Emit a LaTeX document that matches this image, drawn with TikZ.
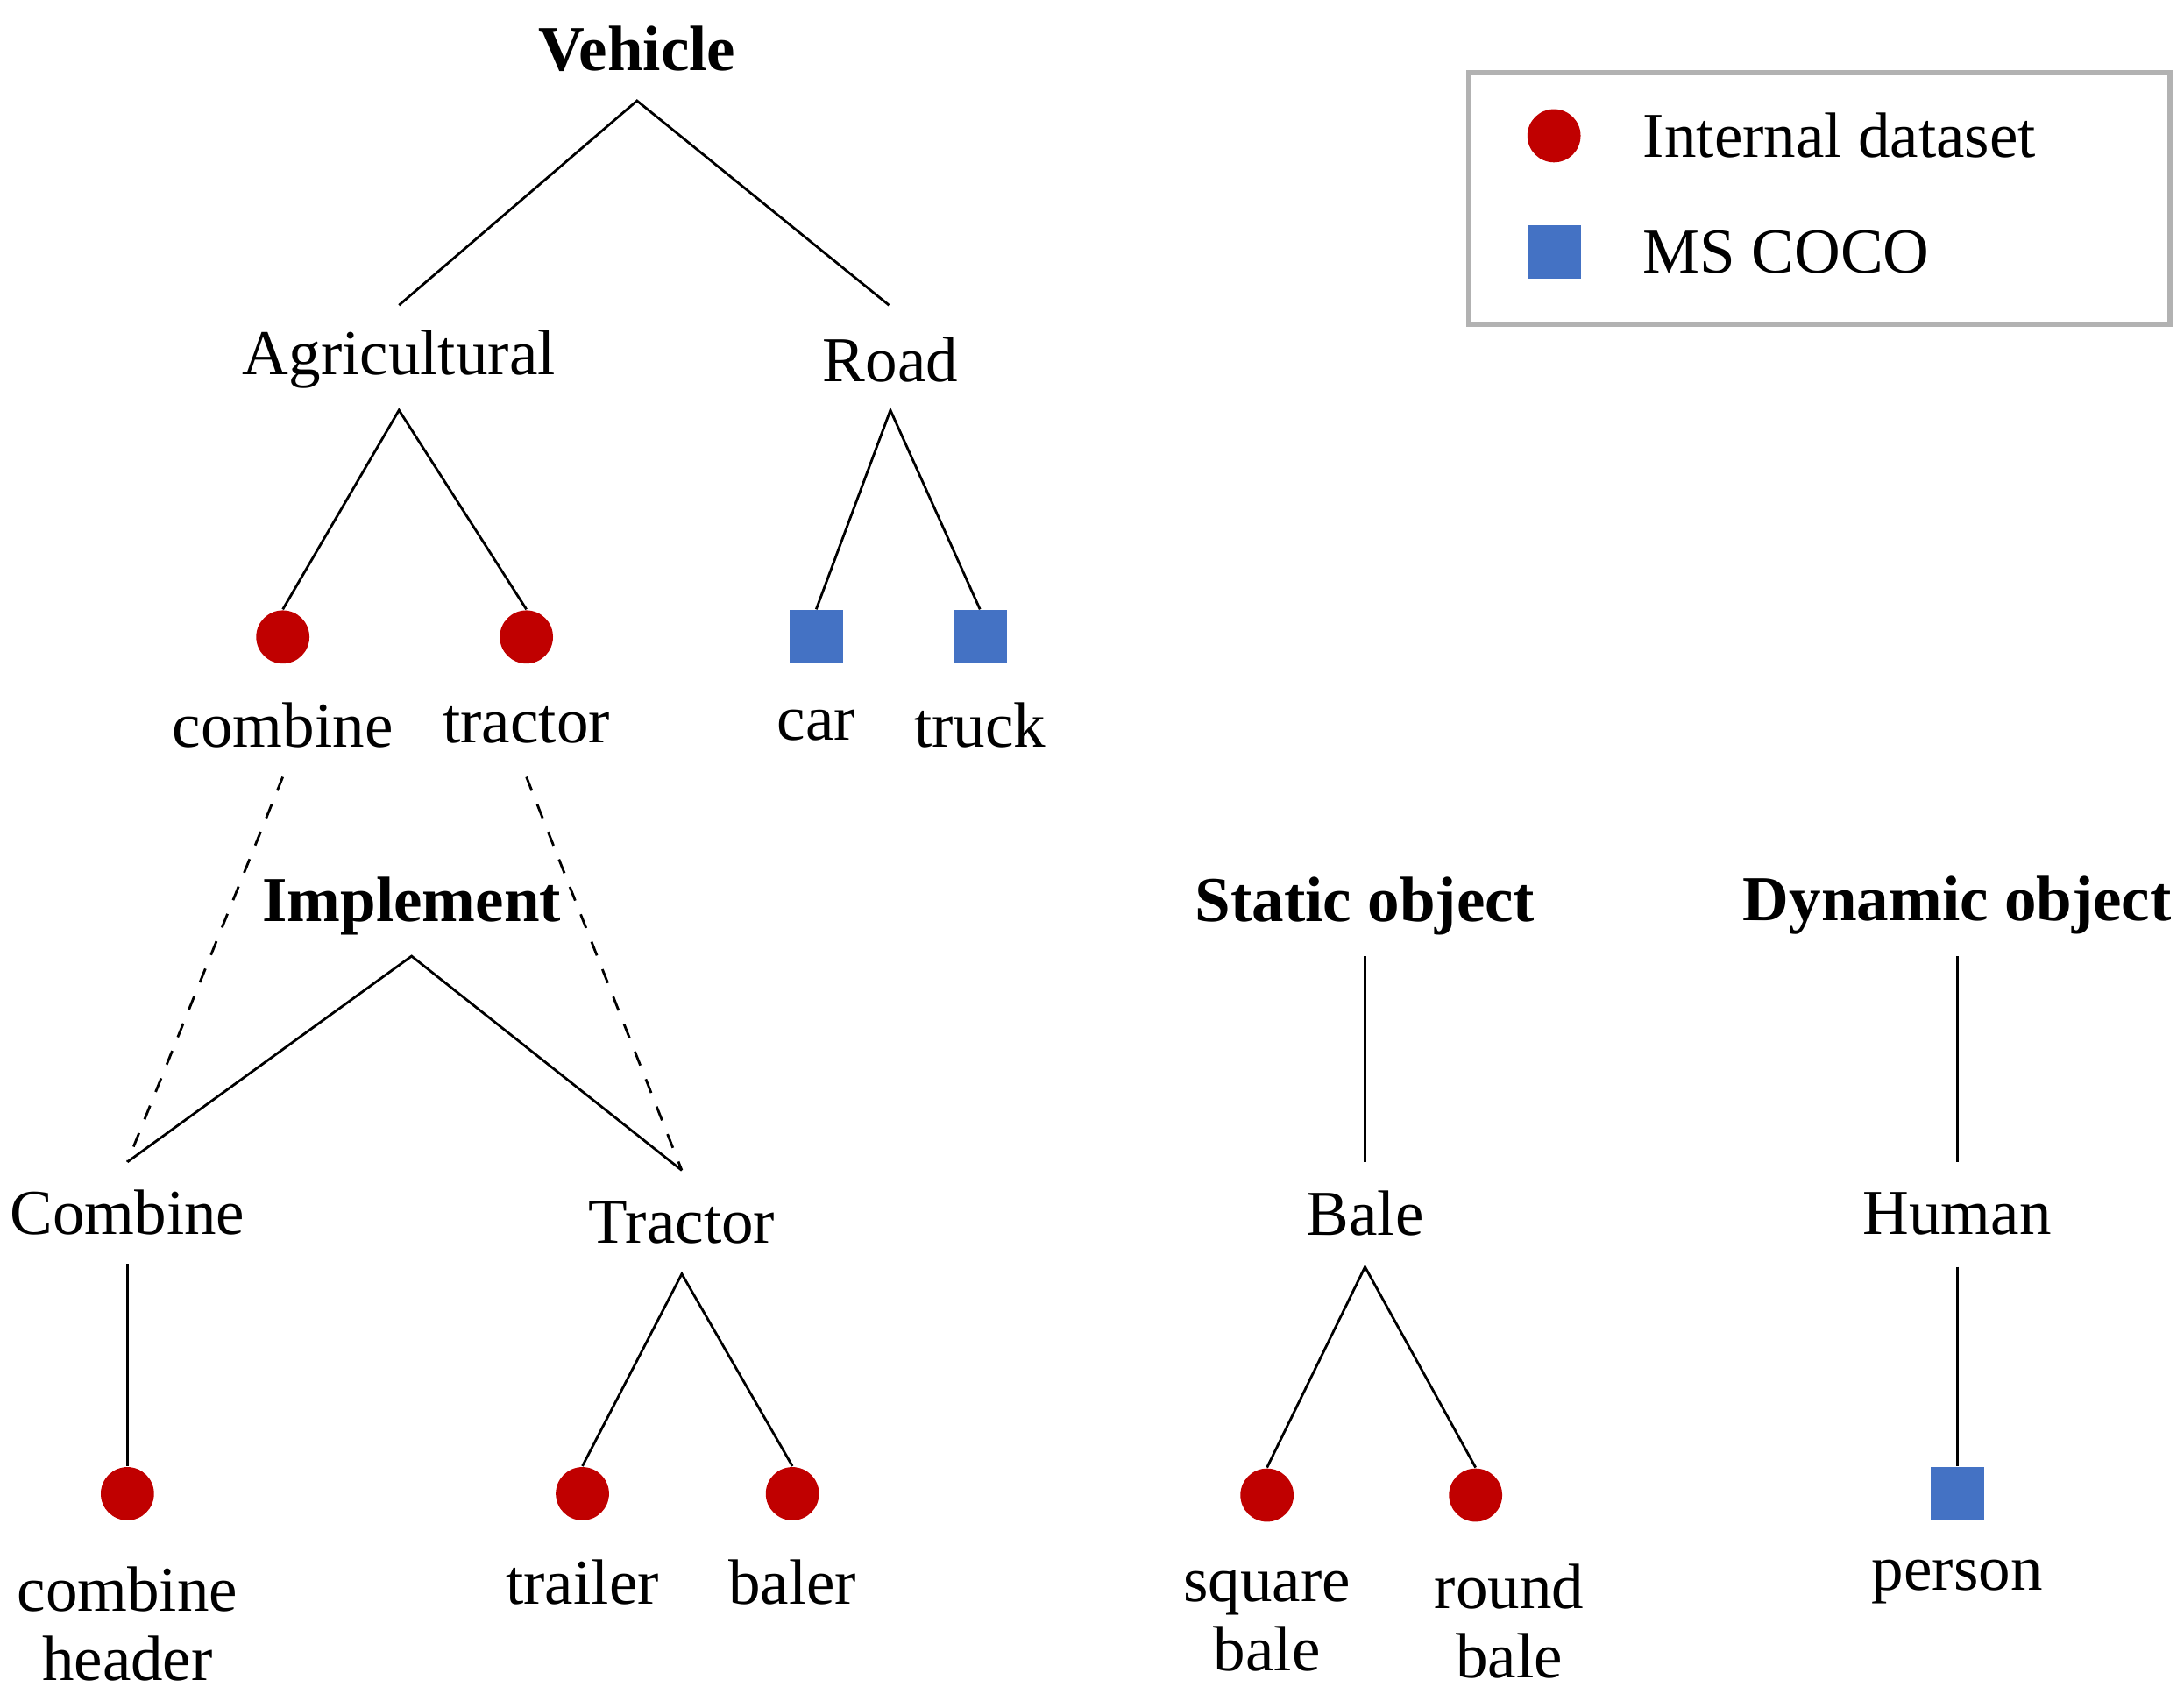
\documentclass[tikz,border=0pt]{standalone}
\usepackage{fontspec}
\setmainfont{Liberation Serif}
\definecolor{dotred}{HTML}{C00000}
\definecolor{boxblue}{HTML}{4472C4}
\tikzset{
  lbl/.style={font=\fontsize{13}{14}\selectfont, align=center, inner sep=0pt},
  head/.style={lbl, font=\fontsize{13}{14}\selectfont\bfseries},
  dot/.style={circle, fill=dotred, minimum size=0.38cm, inner sep=0pt},
  sq/.style={rectangle, fill=boxblue, minimum size=0.38cm, inner sep=0pt},
  branch/.style={draw=black, line width=0.5pt},
  link/.style={draw=black, line width=0.5pt, dashed}
}
\begin{document}
\begin{tikzpicture}[x=0.01cm,y=-0.01cm]
\useasboundingbox (0,0) rectangle (1560,1210);
% legend
\draw[gray!60, line width=1pt] (1049,52) rectangle (1550,232);
\node[dot] (legred) at (1110,97) {};
\node[lbl, anchor=west] (legint) at (1173,97) {Internal dataset};
\node[sq] (legblue) at (1110,180) {};
\node[lbl, anchor=west] (legcoco) at (1173,180) {MS COCO};
% vehicle tree
\node[head] (vehicle) at (455,35) {Vehicle};
\node[lbl] (agri) at (285,257) {Agricultural};
\node[lbl] (road) at (636,257) {Road};
\node[dot] (combine) at (202,455) {};
\node[dot] (tractor) at (376,455) {};
\node[sq] (car) at (583,455) {};
\node[sq] (truck) at (700,455) {};
\node[lbl] (combinetxt) at (202,518) {combine};
\node[lbl] (tractortxt) at (376,518) {tractor};
\node[lbl] (cartxt) at (583,518) {car};
\node[lbl] (trucktxt) at (700,518) {truck};
\coordinate (vehicleb) at (455,72);
\coordinate (agrit) at (285,218);
\coordinate (roadt) at (635,218);
\coordinate (agrib) at (285,293);
\coordinate (roadb) at (636,293);
\draw[branch] (agrit) -- (vehicleb) -- (roadt);
\draw[branch] (combine.north) -- (agrib) -- (tractor.north);
\draw[branch] (car.north) -- (roadb) -- (truck.north);
% implement tree
\node[head] (implement) at (294,647) {Implement};
\node[lbl] (combinebig) at (91,866) {Combine};
\node[lbl] (tractorbig) at (487,873) {Tractor};
\node[dot] (header) at (91,1067) {};
\node[dot] (trailer) at (416,1067) {};
\node[dot] (baler) at (566,1067) {};
\node[lbl] (headertxt) at (91,1160) {combine\\header};
\node[lbl] (trailertxt) at (416,1130) {trailer};
\node[lbl] (balertxt) at (566,1130) {baler};
\coordinate (implb) at (294,683);
\coordinate (combt) at (91,830);
\coordinate (tract) at (487,836);
\coordinate (combb) at (91,903);
\coordinate (tracb) at (487,910);
\coordinate (combd) at (202,555);
\coordinate (tracd) at (376,555);
\draw[branch] (combt) -- (implb) -- (tract);
\draw[link] (combd) -- (combt);
\draw[link] (tracd) -- (tract);
\draw[branch] (combb) -- (header.north);
\draw[branch] (trailer.north) -- (tracb) -- (baler.north);
% static object tree
\node[head] (static) at (975,647) {Static object};
\node[lbl] (bale) at (975,867) {Bale};
\node[dot] (squarebale) at (905,1068) {};
\node[dot] (roundbale) at (1054,1068) {};
\node[lbl] (squaretxt) at (905,1158) {square\\bale};
\node[lbl] (roundtxt) at (1078,1158) {round\\bale};
\coordinate (staticb) at (975,683);
\coordinate (balet) at (975,830);
\coordinate (baleb) at (975,905);
\draw[branch] (staticb) -- (balet);
\draw[branch] (squarebale.north) -- (baleb) -- (roundbale.north);
% dynamic object tree
\node[head] (dynamic) at (1398,647) {Dynamic object};
\node[lbl] (human) at (1398,867) {Human};
\node[sq] (person) at (1398,1067) {};
\node[lbl] (persontxt) at (1398,1130) {person};
\coordinate (dynb) at (1398,683);
\coordinate (humt) at (1398,830);
\coordinate (humb) at (1398,905);
\draw[branch] (dynb) -- (humt);
\draw[branch] (humb) -- (person.north);
\end{tikzpicture}
\end{document}
